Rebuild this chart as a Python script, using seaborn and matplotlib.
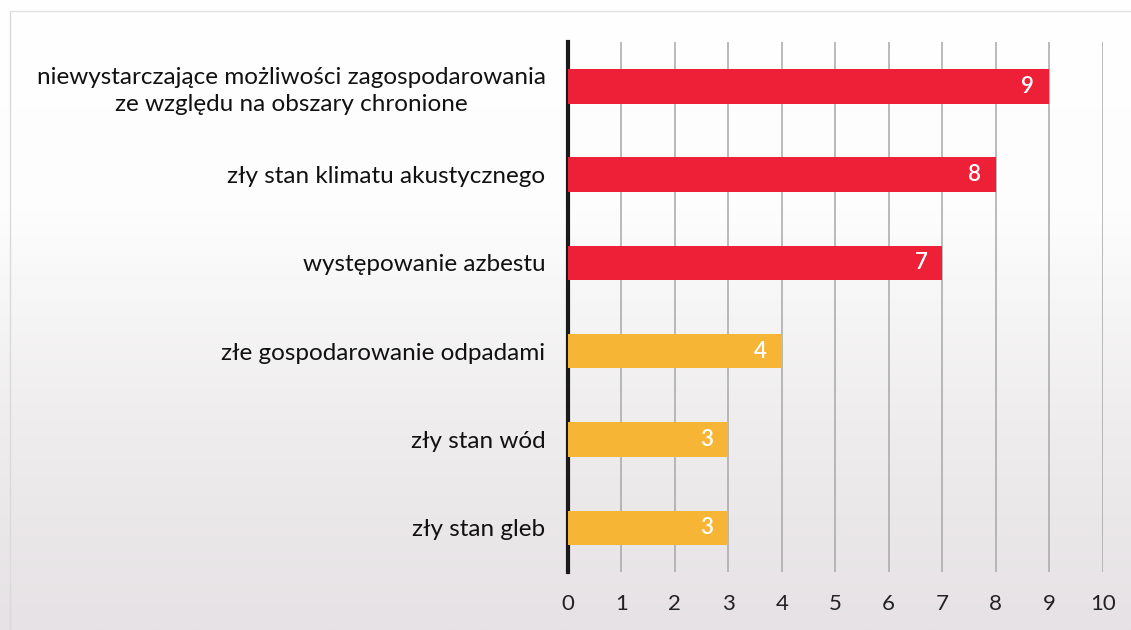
import numpy as np
import pandas as pd
import seaborn as sns
import matplotlib.pyplot as plt

categories = [
    "niewystarczające możliwości zagospodarowania\nze względu na obszary chronione",
    "zły stan klimatu akustycznego",
    "występowanie azbestu",
    "złe gospodarowanie odpadami",
    "zły stan wód",
    "zły stan gleb",
]
counts = [9, 8, 7, 4, 3, 3]
groups = ["high", "high", "high", "low", "low", "low"]
palette = {"high": "#ee2038", "low": "#f6b535"}

df = pd.DataFrame({"problem": categories, "count": counts, "group": groups})

sns.set_style("white")
plt.rcParams["font.family"] = ["Lato", "DejaVu Sans"]

fig = plt.figure(figsize=(11.31, 6.3), dpi=100)

# scanned-paper look: white at the top fading to light grey
bg = fig.add_axes([0, 0, 1, 1], zorder=-10)
grad = np.linspace(0, 1, 256).reshape(-1, 1)
bg.imshow(grad, aspect="auto", extent=[0, 1, 0, 1], origin="upper",
          cmap=sns.blend_palette(["#ffffff", "#fdfdfd", "#efedee", "#e6e2e5"], as_cmap=True))
bg.plot([0.009, 0.009], [0, 0.982], color="#dadada", lw=1)
bg.plot([0.009, 1], [0.982, 0.982], color="#e2e2e2", lw=1)
bg.set_xlim(0, 1)
bg.set_ylim(0, 1)
bg.axis("off")

ax = fig.add_axes([0.502, 0.092, 0.473, 0.841])
ax.patch.set_alpha(0)
sns.barplot(data=df, x="count", y="problem", hue="group", palette=palette,
            dodge=False, width=0.39, legend=False, saturation=1, linewidth=0,
            ax=ax, zorder=3)

ax.set_xlim(0, 10)
ax.set_ylim(5.5, -0.5)
ax.set_xticks(range(0, 11))
ax.xaxis.grid(True, color="#a8a8a8", lw=1.1, zorder=0)
ax.set_axisbelow(True)
for s in ["top", "right", "bottom"]:
    ax.spines[s].set_visible(False)
ax.spines["left"].set_color("#1a1a1a")
ax.spines["left"].set_linewidth(3)
ax.set_xlabel("")
ax.set_ylabel("")
ax.tick_params(axis="x", length=0, pad=16, labelsize=16, labelcolor="#222222")
ax.tick_params(axis="y", length=0, pad=16, labelsize=17.5, labelcolor="#111111")
for lbl in ax.get_yticklabels():
    lbl.set_horizontalalignment("right")
    lbl.set_multialignment("center")
    lbl.set_linespacing(1.35)

for i, v in enumerate(counts):
    ax.text(v - 0.28, i, str(v), color="white", fontsize=16, fontweight="semibold",
            ha="right", va="center", zorder=5)

fig.savefig("out.png", dpi=100)
